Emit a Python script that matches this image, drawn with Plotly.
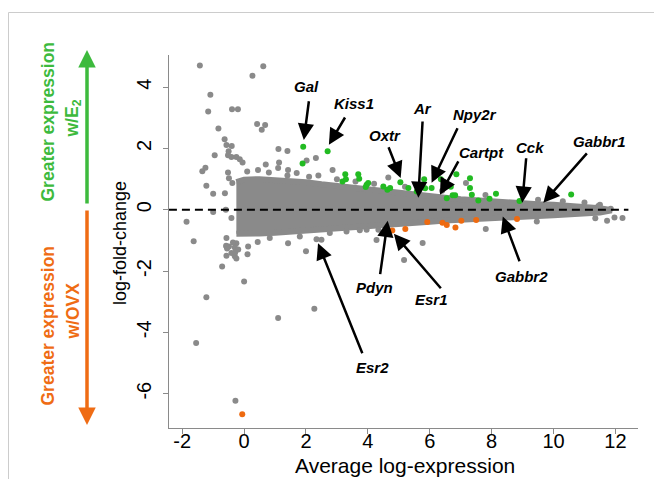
import plotly.graph_objects as go

# ---------------- data ----------------
# dense core of the gray (non-significant) genes: envelope of the cloud
cloud_x = [-0.25, 0, 0.5, 1, 1.5, 2, 2.5, 3, 3.5, 4, 4.5, 5, 5.5, 6, 6.5, 7, 7.5,
           8, 8.5, 9, 9.5, 10, 10.5, 11, 11.5, 11.8]
cloud_top = [0.90, 0.98, 1.00, 0.97, 0.94, 0.90, 0.83, 0.77, 0.71, 0.65, 0.59, 0.53,
             0.48, 0.43, 0.39, 0.34, 0.30, 0.27, 0.24, 0.21, 0.18, 0.16, 0.13, 0.10, 0.05, 0.0]
cloud_bottom = [-0.78, -0.78, -0.77, -0.75, -0.73, -0.71, -0.67, -0.63, -0.59, -0.55,
                -0.51, -0.47, -0.43, -0.39, -0.35, -0.32, -0.29, -0.27, -0.24, -0.22,
                -0.20, -0.18, -0.16, -0.13, -0.09, -0.03]

# individually visible gray genes
gray_x = [-1.43, 0.62, 0.27, -1.09, -1.16, -0.39, -0.20, -0.83, 0.42, 0.68, 0.57, -0.63,
          -0.57, -0.40, -0.95, -0.50, -0.52, -0.41, -0.25, -0.14, -0.05, 1.11, 1.40, 2.32,
          2.02, 2.86, 0.70, 1.13, 1.10, 1.42, -1.22, -1.35, -1.25, -1.0, -1.0, -1.86,
          -0.52, -0.49, -0.38, -0.62, -0.59, -0.41, 4.66, 7.17,
          0.1, 0.45, 0.8, 1.7, 2.4, 1.4, 2.1, 3.0, 3.6, 4.2, 5.2, 6.4, 7.8, 9.5, 10.3,
          11.0, 11.5,
          -0.57, -0.49, -0.25, -0.30, -0.57, -0.41, -0.19, -0.30, -0.58, -0.55, -0.29,
          -0.57, -0.25, 0.11, 0.13, 0.44, 0.83, 1.42, 1.80, 2.0, 2.34, 2.50, 2.77, 3.31,
          3.74, 3.96, 4.34, -0.36,
          -1.63, -0.71, 0.0, -1.22, 1.10, -1.55, -0.28, 2.27, 5.17, 4.28, 5.77, 7.81, 9.46,
          11.35, 11.73, 11.97, 12.23, 11.45, 11.85]
gray_y = [4.71, 4.68, 4.37, 3.75, 3.21, 3.28, 3.28, 2.65, 2.80, 2.77, 2.61, 2.30,
          2.11, 2.08, 1.78, 1.91, 1.78, 1.72, 1.72, 1.65, 1.54, 1.98, 1.92, 1.69,
          1.61, 1.30, 1.48, 1.54, 1.36, 1.30, 0.78, 1.26, 1.37, 0.52, -0.07, -0.39,
          1.22, 1.03, 0.87, 0.54, 0.0, -0.27, 1.05, 0.87,
          1.25, 1.30, 1.22, 1.20, 1.12, 1.12, 1.08, 1.0, 0.92, 0.85, 0.75, 0.62, 0.48, 0.33, 0.28,
          0.24, 0.16,
          -0.92, -1.2, -1.09, -1.23, -1.2, -1.41, -1.30, -1.52, -1.17, -1.26, -1.39,
          -1.50, -1.59, -1.45, -1.20, -1.05, -0.92, -1.09, -0.87, -1.35, -0.96, -0.98, -0.76, -0.71,
          -0.67, -0.65, -0.65, -1.07,
          -1.03, -1.85, -2.34, -2.85, -3.53, -4.35, -6.23, -3.23, -1.64, -0.99, -1.08, -0.63, -0.38,
          -0.28, -0.36, -0.25, -0.27, 0.12, 0.03]

# genes with greater expression with E2 (green)
up_x = [1.91, 1.89, 2.70, 3.27, 3.18, 3.29, 3.69, 3.72, 3.96, 4.01, 3.93, 4.50, 4.63, 4.72,
        5.05, 5.31, 5.58, 5.82, 5.85, 6.06, 6.36, 6.68, 6.74, 6.82, 6.55, 6.86, 7.30, 7.30,
        7.36, 7.57, 7.93, 8.14, 8.90, 10.57]
up_y = [2.06, 1.51, 1.91, 1.16, 0.92, 1.00, 1.16, 1.01, 0.82, 0.87, 0.74, 0.76, 0.65, 0.71,
        0.90, 0.71, 0.60, 1.00, 0.70, 0.71, 1.00, 0.75, 0.47, 0.47, 0.38, 1.16, 1.03, 0.71,
        0.49, 0.30, 0.36, 0.52, 0.29, 0.50]

# genes with greater expression with OVX (orange)
down_x = [-0.06, 4.79, 5.21, 5.92, 6.41, 6.55, 6.83, 7.02, 7.50, 8.82]
down_y = [-6.67, -0.68, -0.63, -0.40, -0.42, -0.50, -0.58, -0.36, -0.33, -0.30]

# labelled genes: label position, arrow tail, arrow tip
gene_names = ["Gal", "Kiss1", "Oxtr", "Ar", "Npy2r", "Cartpt", "Cck", "Gabbr1",
              "Pdyn", "Esr1", "Esr2", "Gabbr2"]
label_x = [2.03, 3.55, 4.55, 5.75, 7.47, 7.66, 9.25, 11.48, 4.23, 6.07, 4.16, 8.96]
label_y = [4.01, 3.46, 2.41, 3.29, 3.10, 1.86, 2.02, 2.22, -2.54, -2.93, -5.15, -2.18]
tail_x = [2.10, 3.29, 4.65, 5.77, 6.92, 6.95, 9.12, 11.12, 4.39, 6.40, 3.84, 8.92]
tail_y = [3.59, 3.06, 2.09, 2.93, 2.71, 1.63, 1.73, 1.89, -2.15, -2.61, -4.73, -1.73]
tip_x = [1.93, 2.74, 5.06, 5.63, 6.06, 6.33, 8.99, 9.67, 4.64, 4.84, 2.39, 8.36]
tip_y = [2.28, 2.12, 1.04, 0.39, 0.88, 0.49, 0.23, 0.23, -0.36, -0.78, -1.09, -0.22]

x_ticks = [-2, 0, 2, 4, 6, 8, 10, 12]
x_tick_labels = ["-2", "0", "2", "4", "6", "8", "10", "12"]
y_ticks = [-6, -4, -2, 0, 2, 4]
y_tick_labels = ["-6", "-4", "-2", "0", "2", "4"]

# ---------------- styling ----------------
GRAY = "#8a8a8a"
GREEN = "#22bb22"
ORANGE = "#ee6a10"
ARROW_GREEN = "#3dba3d"
ARROW_ORANGE = "#ef6c14"
FONT = "Liberation Sans, Arial, sans-serif"

OFF = 8  # default page margin of the browser
W, H = 662 - OFF, 479 - OFF
ML, MR, MT, MB = 169 - OFF, 24, 55 - OFF, 51
PW, PH = W - ML - MR, H - MT - MB


def px(xp):  # page pixel -> paper x
    return (xp - OFF - ML) / PW


def py(yp):  # page pixel -> paper y
    return (H - MB - (yp - OFF)) / PH


fig = go.Figure()

# dense cloud
fig.add_trace(go.Scatter(
    x=cloud_x + cloud_x[::-1], y=cloud_top + cloud_bottom[::-1],
    mode="lines", fill="toself", fillcolor=GRAY,
    line=dict(color=GRAY, width=6), hoverinfo="skip", showlegend=False))

fig.add_trace(go.Scatter(x=gray_x, y=gray_y, mode="markers",
                         marker=dict(size=6, color=GRAY), showlegend=False))
fig.add_trace(go.Scatter(x=up_x, y=up_y, mode="markers",
                         marker=dict(size=6, color=GREEN), showlegend=False))
fig.add_trace(go.Scatter(x=down_x, y=down_y, mode="markers",
                         marker=dict(size=6, color=ORANGE), showlegend=False))

# dashed zero line
fig.add_shape(type="line", x0=-2.43, x1=12.42, y0=0, y1=0, xref="x", yref="y",
              line=dict(color="black", width=2, dash="8px,5px"), layer="above")

# gene labels and arrows
for name, lx, ly, tx, ty, hx, hy in zip(gene_names, label_x, label_y, tail_x, tail_y, tip_x, tip_y):
    fig.add_annotation(x=lx, y=ly, xref="x", yref="y", text=f"<b><i>{name}</i></b>",
                       xanchor="center", yanchor="middle",
                       showarrow=False, font=dict(family=FONT, size=15, color="black"))
    fig.add_annotation(x=hx, y=hy, ax=tx, ay=ty, xref="x", yref="y", axref="x", ayref="y",
                       text="", showarrow=True, arrowhead=2, arrowsize=1.3,
                       arrowwidth=2.5, arrowcolor="black")

# axis titles
fig.add_annotation(x=px(405), y=py(465), xref="paper", yref="paper",
                   xanchor="center", yanchor="middle",
                   text="Average log-expression", showarrow=False,
                   font=dict(family=FONT, size=21, color="black"))
fig.add_annotation(x=px(120), y=py(243), xref="paper", yref="paper",
                   xanchor="center", yanchor="middle",
                   text="log-fold-change", showarrow=False, textangle=-90,
                   font=dict(family=FONT, size=18, color="black"))

# left-hand direction arrows and texts
fig.add_annotation(x=px(87), y=py(50), ax=0, ay=155, xref="paper", yref="paper",
                   axref="pixel", ayref="pixel", text="", showarrow=True, arrowhead=2,
                   arrowsize=1, arrowwidth=3.5, arrowcolor=ARROW_GREEN)
fig.add_annotation(x=px(87), y=py(425), ax=0, ay=-216, xref="paper", yref="paper",
                   axref="pixel", ayref="pixel", text="", showarrow=True, arrowhead=2,
                   arrowsize=1, arrowwidth=3.5, arrowcolor=ARROW_ORANGE)
side_texts = [
    ("<b>Greater expression</b>", 47.5, 122, ARROW_GREEN),
    ("<b>w/E<sub>2</sub></b>", 72.5, 119, ARROW_GREEN),
    ("<b>Greater expression</b>", 47.5, 326, ARROW_ORANGE),
    ("<b>w/OVX</b>", 72.5, 311, ARROW_ORANGE),
]
for txt, xp, yp, col in side_texts:
    fig.add_annotation(x=px(xp), y=py(yp), xref="paper", yref="paper", text=txt,
                       xanchor="center", yanchor="middle", showarrow=False, textangle=-90,
                       font=dict(family=FONT, size=17.5, color=col))

# outer light frame (top and left)
fig.add_shape(type="line", xref="paper", yref="paper", x0=px(8.5), x1=px(662), y0=py(12.5), y1=py(12.5),
              line=dict(color="#cccccc", width=1))
fig.add_shape(type="line", xref="paper", yref="paper", x0=px(8.5), x1=px(8.5), y0=py(12.5), y1=py(479),
              line=dict(color="#cccccc", width=1))

xaxis = dict(range=[-2.427, 12.73], tickvals=x_ticks, ticktext=x_tick_labels,
             showgrid=False, zeroline=False, showline=True, linecolor="#8a8a8a", linewidth=1,
             ticks="outside", ticklen=5, tickcolor="#8a8a8a",
             tickfont=dict(family=FONT, size=20, color="black"))
yaxis = dict(range=[-7.12, 5.05], tickvals=y_ticks, ticktext=y_tick_labels,
             showgrid=False, zeroline=False, showline=True, linecolor="#8a8a8a", linewidth=1,
             ticks="outside", ticklen=5, tickcolor="#8a8a8a", tickangle=-90,
             tickfont=dict(family=FONT, size=20, color="black"))

fig.update_layout(
    width=W, height=H, margin=dict(l=ML, r=MR, t=MT, b=MB, autoexpand=False),
    paper_bgcolor="white", plot_bgcolor="white", showlegend=False, hovermode=False,
    font=dict(family=FONT, color="black"),
    xaxis=xaxis, yaxis=yaxis,
)
try:
    fig.update_layout(xaxis_ticklabelstandoff=-10, yaxis_ticklabelstandoff=4)
except ValueError:
    pass

fig.write_html("out.html")
